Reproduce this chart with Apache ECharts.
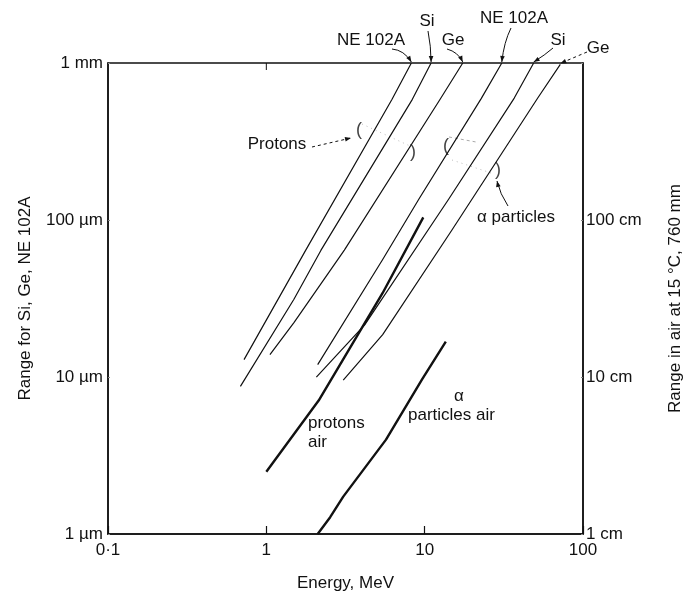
<!DOCTYPE html>
<html><head><meta charset="utf-8">
<script src="https://cdn.jsdelivr.net/npm/echarts@6/dist/echarts.min.js"></script>
<style>html,body{margin:0;padding:0;background:#fff}#c{width:686px;height:598px}</style>
</head><body><div id="c"></div>
<script>
// ---- data (energy MeV, range µm / cm) ----
const xTickLabels = {'-1':'0·1', '0':'1', '1':'10', '2':'100'};
const yLeftLabels = {'0':'1 µm', '1':'10 µm', '2':'100 µm', '3':'1 mm'};
const yRightLabels = {'0':'1 cm', '1':'10 cm', '2':'100 cm', '3':''};

const protonNE = [[0.723,12.9],[1.767,63.8],[6.21,585],[8.24,1000]];
const protonSi = [[0.686,8.71],[1.494,31.3],[2.21,64.0],[8.36,587],[10.98,1000]];
const protonGe = [[1.054,13.9],[1.494,22.2],[3.11,64.3],[12.55,590],[17.4,1000]];
const alphaNE  = [[2.11,12.0],[5.43,56.0],[9.2,136],[22.8,595],[30.7,1000]];
const alphaSi  = [[2.07,9.97],[4.18,21.5],[14.2,136],[36.8,598],[48.8,1000]];
const alphaGe  = [[3.06,9.55],[5.43,18.6],[14.8,85.7],[51.9,601],[71.9,980]];
const protonAir = [[1.0,2.49],[2.14,7.08],[5.43,34.3],[9.8,104]];       // cm
const alphaAir  = [[2.11,1.0],[2.53,1.28],[3.06,1.73],[5.7,3.99],[9.65,9.7],[13.6,16.8]]; // cm

const FONT = 'Liberation Sans';
const INK = '#111';
const lg = v => String(Math.round(Math.log10(v)));

function thin(name, data){
  return {name, type:'line', data, showSymbol:false, smooth:false,
    lineStyle:{color:INK, width:1.2, join:'round'}, silent:true};
}
function thick(name, data){
  return {name, type:'line', yAxisIndex:1, data, showSymbol:false, smooth:false,
    lineStyle:{color:INK, width:2.4, join:'round'}, silent:true};
}

const chart = echarts.init(document.getElementById('c'), null, {renderer:'canvas'});
const option = {
  animation:false,
  backgroundColor:'#fff',
  textStyle:{fontFamily:FONT, color:INK},
  grid:{left:108, right:103, top:63, bottom:64, show:true, borderColor:INK, borderWidth:1.5,
    containLabel:false, outerBoundsMode:'none'},
  xAxis:{type:'log', logBase:10, min:0.1, max:100,
    name:'Energy, MeV', nameLocation:'middle', nameGap:41,
    nameTextStyle:{fontFamily:FONT, fontSize:17, color:INK},
    axisLine:{show:true, lineStyle:{color:INK, width:1.5}},
    axisTick:{show:true, inside:true, length:8, lineStyle:{color:INK, width:1.2}},
    minorTick:{show:false}, splitLine:{show:false},
    axisLabel:{fontFamily:FONT, fontSize:17, color:INK, margin:8, formatter:v => xTickLabels[lg(v)] ?? ''}
  },
  yAxis:[
    {type:'log', logBase:10, min:1, max:1000, position:'left',
      name:'Range for Si, Ge, NE 102A', nameLocation:'middle', nameGap:74, nameRotate:90,
      nameTextStyle:{fontFamily:FONT, fontSize:17, color:INK},
      axisLine:{show:true, lineStyle:{color:INK, width:1.5}},
      axisTick:{show:true, inside:true, length:2, lineStyle:{color:'#888', width:1}},
      splitLine:{show:false},
      axisLabel:{fontFamily:FONT, fontSize:17, color:INK, margin:5, formatter:v => yLeftLabels[lg(v)] ?? ''}
    },
    {type:'log', logBase:10, min:1, max:1000, position:'right',
      name:'Range in air at 15 °C, 760 mm', nameLocation:'middle', nameGap:84, nameRotate:90,
      nameTextStyle:{fontFamily:FONT, fontSize:17, color:INK},
      axisLine:{show:true, lineStyle:{color:INK, width:1.5}},
      axisTick:{show:true, inside:true, length:2, lineStyle:{color:'#888', width:1}},
      splitLine:{show:false},
      axisLabel:{fontFamily:FONT, fontSize:17, color:INK, margin:3, formatter:v => yRightLabels[lg(v)] ?? ''}
    }
  ],
  series:[
    thin('Protons NE 102A', protonNE),
    thin('Protons Si', protonSi),
    thin('Protons Ge', protonGe),
    thin('α NE 102A', alphaNE),
    thin('α Si', alphaSi),
    thin('α Ge', alphaGe),
    thick('Protons air', protonAir),
    thick('α particles air', alphaAir)
  ]
};
chart.setOption(option);

// ---- annotations ----
const P = (pt, yi) => chart.convertToPixel({xAxisIndex:0, yAxisIndex:yi||0}, pt);
const last = a => a[a.length-1];

function arrow(p0, c, p1, dashed){
  const st = {stroke:INK, lineWidth:1, fill:'none', lineDash: dashed ? [3,3] : null};
  const els = [];
  if (c) els.push({type:'bezierCurve', silent:true, shape:{x1:p0[0],y1:p0[1],cpx1:c[0],cpy1:c[1],x2:p1[0],y2:p1[1]}, style:st});
  else els.push({type:'line', silent:true, shape:{x1:p0[0],y1:p0[1],x2:p1[0],y2:p1[1]}, style:st});
  const f = c || p0;
  const dx = p1[0]-f[0], dy = p1[1]-f[1], L = Math.hypot(dx,dy) || 1;
  const ux = dx/L, uy = dy/L, hl = 6, hw = 2.3;
  const bx = p1[0]-ux*hl, by = p1[1]-uy*hl;
  els.push({type:'polygon', silent:true, shape:{points:[[p1[0],p1[1]],[bx-uy*hw,by+ux*hw],[bx+uy*hw,by-ux*hw]]}, style:{fill:INK}});
  return els;
}
function txt(s, x, y, opts){
  return Object.assign({type:'text', silent:true, x, y,
    style:Object.assign({text:s, font:'17px "' + FONT + '"', fill:INK, align:'center', verticalAlign:'middle'}, (opts||{}))});
}
function seg(a, b, color, dash){
  return {type:'line', silent:true, shape:{x1:a[0],y1:a[1],x2:b[0],y2:b[1]}, style:{stroke:color, lineWidth:1, lineDash:dash}};
}

const tNE = P(last(protonNE)), tSi = P(last(protonSi)), tGe = P(last(protonGe));
const aNE = P(last(alphaNE)), aSi = P(last(alphaSi)), aGe = P(last(alphaGe));
const up = (p, d) => [p[0], p[1]-d];
const x1px = P([1, 1000]);

const g = [];
g.push(seg([x1px[0], x1px[1]], [x1px[0], x1px[1]+7], INK, null));
g.push(txt('NE 102A', 371, 40));
g.push(...arrow([392,49],[404,50], up(tNE,1)));
g.push(txt('Si', 427, 21));
g.push(...arrow([428,31],[431,46], up(tSi,1)));
g.push(txt('Ge', 453, 40));
g.push(...arrow([447,49],[458,52], up(tGe,1)));
g.push(txt('NE 102A', 514, 18));
g.push(...arrow([511,28],[504,42], up(aNE,1)));
g.push(txt('Si', 558, 40));
g.push(...arrow([553,48],[545,55], up(aSi,1)));
g.push(txt('Ge', 598, 48));
g.push(...arrow([587,52], null, up(aGe,1), true));

g.push(txt('Protons', 277, 144));
g.push(...arrow([312,147], null, [351,138], true));
g.push(txt('(', 359, 130, {font:'18px "' + FONT + '"', fill:'#444'}));
g.push(txt(')', 413, 152, {font:'18px "' + FONT + '"', fill:'#444'}));
g.push(seg([362,124],[410,146],'#bbb',[1,4]));

g.push(txt('α particles', 516, 217));
g.push(...arrow([508,206],[500,194],[497,181]));
g.push(txt('(', 446, 146, {font:'18px "' + FONT + '"', fill:'#444'}));
g.push(txt(')', 498, 170, {font:'18px "' + FONT + '"', fill:'#444'}));
g.push(seg([449,137],[476,142],'#aaa',[3,3]));
g.push(seg([452,160],[494,174],'#bbb',[1,4]));

g.push(txt('protons', 308, 423, {align:'left'}));
g.push(txt('air', 308, 442, {align:'left'}));
g.push(txt('α', 459, 396));
g.push(txt('particles air', 408, 415, {align:'left'}));

chart.setOption({graphic:{elements:g}});
</script>
</body></html>
